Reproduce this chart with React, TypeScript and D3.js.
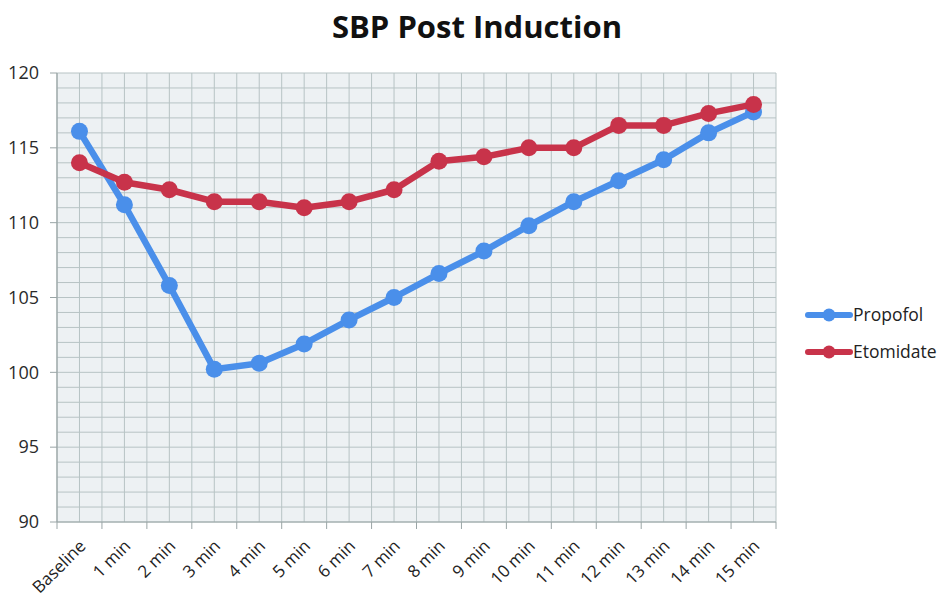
import * as d3 from 'd3';

const categories = ['Baseline', '1 min', '2 min', '3 min', '4 min', '5 min', '6 min', '7 min', '8 min', '9 min', '10 min', '11 min', '12 min', '13 min', '14 min', '15 min'];
const propofol = [116.1, 111.2, 105.8, 100.2, 100.6, 101.9, 103.5, 105.0, 106.6, 108.1, 109.8, 111.4, 112.8, 114.2, 116.0, 117.4];
const etomidate = [114.0, 112.7, 112.2, 111.4, 111.4, 111.0, 111.4, 112.2, 114.1, 114.4, 115.0, 115.0, 116.5, 116.5, 117.3, 117.9];
const yTicks = [90, 95, 100, 105, 110, 115, 120];
const seriesNames = ['Propofol', 'Etomidate'];
const seriesColors = ['#4a8fea', '#c8334a'];

const W = 944;
const H = 604;
const font = '"Open Sans", "DejaVu Sans", sans-serif';

export default function App() {
  const left = 57, right = 776, top = 73, bottom = 522;
  const x = d3.scaleBand<string>().domain(categories).range([left, right]).padding(0);
  const bw = x.bandwidth();
  const cx = (c: string) => x(c)! + bw / 2;
  const y = d3.scaleLinear().domain([90, 120]).range([bottom, top]);

  const line = d3.line<number>()
    .x((_, i) => cx(categories[i]))
    .y((d) => y(d));

  const hGrid = d3.range(90, 121, 1);
  const vGrid: number[] = [];
  categories.forEach((c) => { vGrid.push(x(c)!); vGrid.push(cx(c)); });
  vGrid.push(right);

  const series = [propofol, etomidate];

  return (
    <svg width={W} height={H} style={{ position: 'absolute', left: 0, top: 0, background: '#fff' }}>
      <text x={477} y={38} textAnchor="middle" fontFamily={font} fontWeight="bold" fontSize={31} fill="#111">SBP Post Induction</text>
      <rect x={left} y={top} width={right - left} height={bottom - top} fill="#edf1f3" />
      {hGrid.map((v) => (
        <line key={'h' + v} x1={left} x2={right} y1={y(v)} y2={y(v)} stroke="#b7c3c4" strokeWidth={1} />
      ))}
      {vGrid.map((v, i) => (
        <line key={'v' + i} x1={v} x2={v} y1={top} y2={bottom} stroke="#b7c3c4" strokeWidth={1} />
      ))}
      <line x1={left} x2={left} y1={top} y2={bottom} stroke="#9aa5a6" strokeWidth={1.2} />
      <line x1={left} x2={right} y1={bottom} y2={bottom} stroke="#9aa5a6" strokeWidth={1.2} />
      {yTicks.map((t) => (
        <g key={'yt' + t}>
          <line x1={left - 7} x2={left} y1={y(t)} y2={y(t)} stroke="#9aa5a6" />
          <text x={39} y={y(t)} dy="0.35em" textAnchor="end" fontFamily={font} fontSize={18} fill="#2a2a2a">{t}</text>
        </g>
      ))}
      {categories.map((c) => (
        <line key={'xt' + c} x1={x(c)!} x2={x(c)!} y1={bottom} y2={bottom + 7} stroke="#9aa5a6" />
      ))}
      <line x1={right} x2={right} y1={bottom} y2={bottom + 7} stroke="#9aa5a6" />
      {categories.map((c) => (
        <text key={'xl' + c} transform={`translate(${cx(c) + 3},${bottom + 21}) rotate(-45)`} textAnchor="end" dy="0.35em" fontFamily={font} fontSize={17} fill="#222">{c}</text>
      ))}
      {series.map((s, si) => (
        <g key={'s' + si}>
          <path d={line(s)!} fill="none" stroke={seriesColors[si]} strokeWidth={6.5} strokeLinejoin="round" />
          {s.map((v, i) => (
            <circle key={i} cx={cx(categories[i])} cy={y(v)} r={8.5} fill={seriesColors[si]} />
          ))}
        </g>
      ))}
      {seriesNames.map((n, i) => {
        const ly = 315 + i * 37;
        return (
          <g key={'lg' + n}>
            <line x1={808} x2={850} y1={ly} y2={ly} stroke={seriesColors[i]} strokeWidth={6} strokeLinecap="round" />
            <circle cx={829} cy={ly} r={6.5} fill={seriesColors[i]} />
            <text x={853} y={ly} dy="0.35em" fontFamily={font} fontSize={17.5} fill="#222">{n}</text>
          </g>
        );
      })}
    </svg>
  );
}
